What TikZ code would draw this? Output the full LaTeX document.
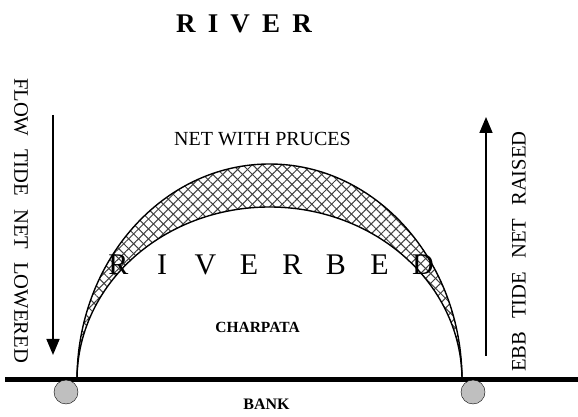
\documentclass[tikz,border=0pt]{standalone}
\usepackage{fontspec}
\setmainfont{Liberation Serif}
\usepackage{tikz}
\usetikzlibrary{arrows.meta, patterns.meta, positioning}

\tikzset{
    lbl/.style={font=\fontsize{20}{24}\selectfont, inner sep=0pt},
    sidelbl/.style={font=\fontsize{20.6}{24}\selectfont, inner sep=0pt},
    boldlbl/.style={font=\bfseries\fontsize{16}{19}\selectfont, inner sep=0pt},
    bedletter/.style={font=\fontsize{30}{36}\selectfont, inner sep=0pt, anchor=base},
    tidearrow/.style={-{Triangle[width=13pt,length=16pt]}, line width=1.6pt},
    post/.style={circle, draw, fill=black!25, minimum size=24pt, inner sep=0pt},
    mesh/.style={pattern={Lines[angle=#1, distance=7pt, line width=1pt]}, pattern color=black!75},
}
\newcommand{\gap}{\hspace{0.63em}}

\begin{document}
\begin{tikzpicture}[x=1pt, y=1pt]
        \useasboundingbox (0,0) rectangle (578,417);

        % net over the riverbed
        \foreach \a in {45,-45}
            \fill[mesh=\a]
                (77,37) arc[start angle=180, end angle=0, x radius=192.5, y radius=216]
                arc[start angle=0, end angle=180, x radius=192.5, y radius=173] -- cycle;
        \draw[line width=1.4pt] (77,37) arc[start angle=180, end angle=0, x radius=192.5, y radius=216];
        \draw[line width=1.4pt] (77,37) arc[start angle=180, end angle=0, x radius=192.5, y radius=173];

        % bank
        \draw[line width=5pt] (5,37) -- (578,37);
        \node[post] (p1) at (66,25) {};
        \node[post] (p2) at (473,25) {};

        % texts
        \node[font=\bfseries\fontsize{27}{32}\selectfont, inner sep=0pt, anchor=base] (river) at (244,384)
            {R\hspace{0.45em}I\hspace{0.45em}V\hspace{0.45em}E\hspace{0.45em}R};
        \node[lbl, anchor=base] (net) at (262.5,271) {NET WITH PRUCES};
        \foreach \l [count=\i] in {R,I,V,E,R,B,E,D}
            \node[bedletter] (bed\i) at ({118.5+43.5*(\i-1)},142) {\l};
        \node[boldlbl, font=\bfseries\fontsize{15.5}{18}\selectfont, anchor=base] (charpata) at (257.5,84) {CHARPATA};
        \node[boldlbl, anchor=base] (bank) at (266.5,7) {BANK};

        \node[sidelbl, rotate=-90] (flow) at (21,196.5) {FLOW\gap TIDE\gap NET\gap LOWERED};
        \node[sidelbl, rotate=90] (ebb) at (519,165.5) {EBB\gap TIDE\gap NET\gap RAISED};

        % tide arrows
        \coordinate (ltop) at (53,302);
        \coordinate (lbot) at (53,62);
        \coordinate (rbot) at (486,61);
        \coordinate (rtop) at (486,300);
        \draw[tidearrow] (ltop) -- (lbot);
        \draw[tidearrow] (rbot) -- (rtop);
\end{tikzpicture}
\end{document}
